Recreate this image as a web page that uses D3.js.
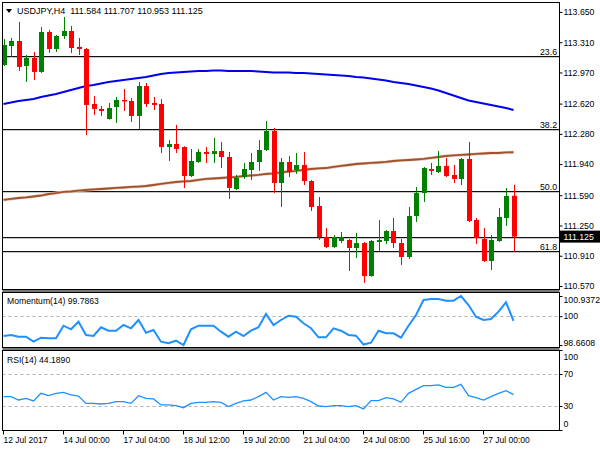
<!DOCTYPE html>
<html><head><meta charset="utf-8">
<script src="https://cdn.jsdelivr.net/npm/d3@7"></script>
<style>body{margin:0;background:#fff}svg text{font-family:"Liberation Sans",Arial,sans-serif;font-size:9px;fill:#000}</style>
</head><body><svg id="c" width="600" height="450"></svg>
<script>
const symbol = "USDJPY,H4";
const lastOHLC = ["111.584","111.707","110.953","111.125"];
const open = [113.054,113.268,113.324,113.043,113.133,112.976,113.425,113.234,113.380,113.436,
113.257,113.234,112.616,112.560,112.447,112.582,112.661,112.650,112.481,112.818,
112.627,112.616,112.132,112.166,112.132,111.806,111.964,112.076,112.054,112.087,
112.020,111.660,111.795,111.874,111.964,112.099,112.312,111.728,111.964,111.874,
111.930,111.750,111.469,111.121,111.008,111.076,111.087,110.997,111.053,110.682,
111.065,111.076,111.188,111.053,110.896,111.357,111.615,111.885,111.851,111.919,
111.818,111.773,111.998,111.312,111.098,110.851,111.076,111.334,111.584];
const high = [113.346,113.358,113.538,113.167,113.200,113.481,113.448,113.391,113.594,113.493,
113.358,113.245,112.706,112.593,112.627,112.695,112.784,112.683,112.863,112.852,
112.695,112.672,112.211,112.380,112.140,112.110,112.110,112.132,112.234,112.189,
112.076,111.818,111.953,112.065,112.211,112.425,112.346,112.009,112.031,112.065,
112.076,111.762,111.570,111.222,111.143,111.177,111.098,111.166,111.065,111.087,
111.312,111.200,111.334,111.098,111.458,111.683,111.908,111.953,112.087,112.009,
111.930,112.009,112.189,111.334,111.222,111.143,111.447,111.672,111.707];
const low = [113.043,113.144,112.987,112.863,112.886,112.964,113.189,113.200,113.346,113.189,
113.167,112.267,112.492,112.481,112.440,112.402,112.537,112.414,112.335,112.582,
112.548,112.065,111.975,112.065,111.672,111.795,111.955,111.953,111.953,111.896,
111.548,111.649,111.773,111.762,111.863,112.087,111.615,111.458,111.795,111.829,
111.705,111.413,111.087,110.997,110.997,111.053,110.739,110.885,110.604,110.675,
110.963,111.042,110.997,110.806,110.873,111.289,111.514,111.818,111.840,111.795,
111.728,111.705,111.289,111.042,110.840,110.750,111.065,111.244,110.953];
const close = [113.279,113.324,113.032,113.133,112.976,113.425,113.234,113.380,113.436,113.245,
113.234,112.605,112.560,112.537,112.571,112.661,112.650,112.481,112.818,112.616,
112.605,112.132,112.166,112.110,111.806,111.975,112.076,112.054,112.087,112.020,
111.672,111.784,111.885,111.964,112.099,112.312,111.728,111.964,111.851,111.930,
111.750,111.458,111.121,111.008,111.121,111.121,110.997,111.053,110.682,111.076,
111.087,111.188,111.053,110.896,111.357,111.615,111.896,111.863,111.919,111.806,
111.773,111.998,111.301,111.110,110.851,111.087,111.346,111.582,111.125];
const maFast = [112.616,112.633,112.650,112.661,112.672,112.695,112.711,112.728,112.751,112.773,
112.796,112.818,112.829,112.846,112.863,112.874,112.886,112.897,112.908,112.919,
112.936,112.953,112.964,112.970,112.976,112.981,112.987,112.987,112.992,112.992,
112.987,112.987,112.987,112.987,112.981,112.976,112.970,112.970,112.970,112.964,
112.964,112.959,112.953,112.947,112.942,112.936,112.931,112.919,112.914,112.902,
112.891,112.880,112.863,112.852,112.841,112.824,112.807,112.790,112.768,112.740,
112.711,112.683,112.655,112.638,112.621,112.605,112.588,112.571,112.548];
const maSlow = [111.537,111.548,111.559,111.565,111.576,111.587,111.604,111.615,111.627,111.632,
111.643,111.649,111.655,111.660,111.666,111.672,111.677,111.683,111.688,111.694,
111.705,111.717,111.728,111.739,111.745,111.750,111.762,111.773,111.778,111.784,
111.790,111.795,111.806,111.812,111.818,111.829,111.835,111.846,111.857,111.863,
111.874,111.885,111.891,111.896,111.908,111.919,111.930,111.941,111.947,111.953,
111.958,111.964,111.975,111.981,111.986,111.992,111.998,112.009,112.020,112.031,
112.037,112.043,112.048,112.054,112.059,112.065,112.065,112.071,112.073];
const momentum = [99.079,99.126,99.047,99.047,98.815,99.000,98.972,98.972,99.558,99.391,
99.744,99.126,99.079,99.484,99.326,99.326,99.590,99.437,99.823,99.233,
99.358,98.815,98.741,98.861,98.661,99.391,99.558,99.558,99.558,99.279,
99.047,99.279,99.079,99.326,99.484,100.101,99.590,99.823,100.022,99.976,
99.669,99.437,99.019,99.019,99.437,99.326,99.126,99.093,98.680,98.768,
99.326,99.205,99.205,99.000,99.558,100.055,100.751,100.798,100.798,100.719,
100.719,100.937,100.519,99.976,99.823,99.869,100.208,100.645,99.786];
const rsi = [41.7,41.7,37.5,39.6,36.3,45.8,42.9,45.8,47.1,43.8,
42.5,33.3,33.3,32.5,33.3,35.4,35.4,33.3,42.9,39.6,
38.8,31.3,31.3,30.4,27.9,33.3,34.6,34.6,35.4,34.6,
29.2,33.3,36.3,37.5,41.7,47.1,37.5,41.7,40.8,41.7,
39.6,35.4,30.0,29.2,30.4,30.4,29.2,30.4,26.3,36.7,
36.7,40.4,38.8,34.6,45.8,50.8,55.4,55.4,56.3,53.3,
53.3,57.1,42.9,40.4,37.5,41.7,45.8,49.2,44.2];
const fibLevels = [113.159, 112.331, 111.641, 110.958];
const fibLabels = ["23.6", "38.2", "50.0", "61.8"];
const bidPrice = 111.125;
const priceTicks = [113.650,113.310,112.970,112.620,112.280,111.940,111.590,111.250,110.910,110.570];
const momTicks = [100.9372, 100, 98.6608];
const momLabels = ["100.9372", "100", "98.6608"];
const rsiTicks = [100, 70, 30, 0];
const timeTickIdx = [0,8,16,24,32,40,48,56,64];
const timeTickLabels = ["12 Jul 2017","14 Jul 00:00","17 Jul 04:00","18 Jul 12:00","19 Jul 20:00","21 Jul 04:00","24 Jul 08:00","25 Jul 16:00","27 Jul 00:00"];
const momLabel = "Momentum(14) 99.7863";
const rsiLabel = "RSI(14) 44.1890";

const svg = d3.select("#c");
const L = 2.5, R = 559.5;
const P1 = {t: 2.5, b: 289.5}, P2 = {t: 292.5, b: 347.5}, P3 = {t: 350.5, b: 430.5};

const x = d3.scaleLinear().domain([0, 68]).range([3.5, 513.5]);
const y = d3.scaleLinear().domain([110.525, 113.762]).range([290, 2]);
const ym = d3.scaleLinear().domain([98.6608, 100.9372]).range([345, 296]);
const yr = d3.scaleLinear().domain([0, 100]).range([430, 350]);

function fitSize(sample, width) {
  const t = svg.append("text").style("font-size", "10px").text(sample);
  const w = t.node().getComputedTextLength();
  t.remove();
  return (10 * width / w).toFixed(2) + "px";
}
const fsTitle = fitSize(symbol + "\u00a0\u00a0" + lastOHLC.join(" "), 186);
const fsAxis = fitSize("113.650", 31);
const fsDate = fitSize(timeTickLabels[0], 44);
const fsInd = fitSize(momLabel, 92);

const defs = svg.append("defs");
[["c1",P1],["c2",P2],["c3",P3]].forEach(([id,p]) => {
  defs.append("clipPath").attr("id", id).append("rect")
    .attr("x", L+0.5).attr("y", p.t+0.5).attr("width", R-L-1).attr("height", p.b-p.t-1);
});

svg.append("rect").attr("x", L).attr("y", P1.b).attr("width", R-L).attr("height", P2.t-P1.b).attr("fill", "#777");
svg.append("rect").attr("x", L).attr("y", P2.b).attr("width", R-L).attr("height", P3.t-P2.b).attr("fill", "#777");

const g1 = svg.append("g").attr("clip-path", "url(#c1)");
fibLevels.forEach((lv, k) => {
  const yy = Math.round(y(lv)) + 0.5;
  g1.append("line").attr("x1", L).attr("x2", R).attr("y1", yy+1).attr("y2", yy+1).attr("stroke", "#c8c8c8").attr("stroke-width", 1);
  g1.append("line").attr("x1", L).attr("x2", R).attr("y1", yy).attr("y2", yy).attr("stroke", "#111").attr("stroke-width", 1.2);
  svg.append("text").attr("x", 557).attr("y", yy - 2).attr("text-anchor", "end").style("font-size", fsAxis).text(fibLabels[k]);
});
const by = Math.round(y(bidPrice)) + 0.5;
g1.append("line").attr("x1", L).attr("x2", R).attr("y1", by+1).attr("y2", by+1).attr("stroke", "#c8c8c8");
g1.append("line").attr("x1", L).attr("x2", R).attr("y1", by).attr("y2", by).attr("stroke", "#111").attr("stroke-width", 1.2);

const idx = d3.range(open.length);
g1.append("path").datum(idx).attr("fill", "none").attr("stroke", "#e8c8b8").attr("stroke-width", 3)
  .attr("d", d3.line().x(i => x(i)).y(i => y(maSlow[i])));
g1.append("path").datum(idx).attr("fill", "none").attr("stroke", "#a0522d").attr("stroke-width", 1.8)
  .attr("d", d3.line().x(i => x(i)).y(i => y(maSlow[i])));
g1.append("path").datum(idx).attr("fill", "none").attr("stroke", "#0000ee").attr("stroke-width", 2)
  .attr("d", d3.line().x(i => x(i)).y(i => y(maFast[i])));

const cg = g1.append("g");
idx.forEach(i => {
  const up = close[i] >= open[i];
  const col = up ? "#008000" : "#ff0000";
  const cx = Math.round(x(i));
  cg.append("line").attr("x1", cx+0.5).attr("x2", cx+0.5).attr("y1", y(high[i])).attr("y2", y(low[i])).attr("stroke", col).attr("stroke-width", 1);
  const t = y(Math.max(open[i], close[i])), b = y(Math.min(open[i], close[i]));
  cg.append("rect").attr("x", cx-2).attr("y", t).attr("width", 5).attr("height", Math.max(1.5, b-t)).attr("fill", col);
});

svg.append("path").attr("d", "M6,9 L12,9 L9,13 Z").attr("fill", "#000");
svg.append("text").attr("x", 17).attr("y", 14).style("font-size", fsTitle).text(symbol + "\u00a0\u00a0" + lastOHLC.join(" "));

const g2 = svg.append("g").attr("clip-path", "url(#c2)");
g2.append("line").attr("x1", L).attr("x2", R).attr("y1", Math.round(ym(100))+0.5).attr("y2", Math.round(ym(100))+0.5)
  .attr("stroke", "#b4b4b4").attr("stroke-dasharray", "3,3");
g2.append("path").datum(idx).attr("fill", "none").attr("stroke", "#1e90ff").attr("stroke-width", 2)
  .attr("d", d3.line().x(i => x(i)).y(i => ym(momentum[i])));
svg.append("text").attr("x", 7).attr("y", 304).style("font-size", fsInd).text(momLabel);

const g3 = svg.append("g").attr("clip-path", "url(#c3)");
[70, 30].forEach(v => {
  g3.append("line").attr("x1", L).attr("x2", R).attr("y1", Math.round(yr(v))+0.5).attr("y2", Math.round(yr(v))+0.5)
    .attr("stroke", "#b4b4b4").attr("stroke-dasharray", "3,3");
});
g3.append("path").datum(idx).attr("fill", "none").attr("stroke", "#1e90ff").attr("stroke-width", 1.3)
  .attr("d", d3.line().x(i => x(i)).y(i => yr(rsi[i])));
svg.append("text").attr("x", 7).attr("y", 363).style("font-size", fsInd).text(rsiLabel);

[P1,P2,P3].forEach(p => {
  svg.append("rect").attr("x", L).attr("y", p.t).attr("width", R-L).attr("height", p.b-p.t)
    .attr("fill", "none").attr("stroke", "#000").attr("stroke-width", 1);
});
function rightAxis(scale, ticks, fmt, clampTop, clampBot) {
  const ax = d3.axisRight(scale).tickValues(ticks).tickFormat(fmt).tickSizeInner(3).tickSizeOuter(0).tickPadding(1);
  const g = svg.append("g").attr("transform", `translate(${R},0)`).call(ax);
  g.select(".domain").remove();
  g.selectAll("line").attr("stroke", "#000");
  g.selectAll("text").style("font-size", fsAxis)
    .each(function(d){
      const sy = scale(d);
      let dy = 0;
      if (clampTop != null && sy < clampTop) dy = clampTop - sy;
      if (clampBot != null && sy > clampBot) dy = clampBot - sy;
      d3.select(this).attr("y", dy);
    });
  return g;
}
rightAxis(y, priceTicks, d => d.toFixed(3), 12, 286);
rightAxis(ym, momTicks, (d,i) => momLabels[i], 300, 343);
rightAxis(yr, rsiTicks, d => String(d), 357, 424);

const byy = y(bidPrice);
svg.append("rect").attr("x", R+0.5).attr("y", byy-6).attr("width", 40).attr("height", 12).attr("fill", "#000");
svg.append("text").attr("x", R+4).attr("y", byy+3.5).style("fill", "#fff").style("font-size", fsAxis).text(bidPrice.toFixed(3));

const xa = d3.axisBottom(d3.scaleLinear().domain([0,68]).range([3,513])).tickValues(timeTickIdx)
  .tickFormat((d,i) => timeTickLabels[i]).tickSizeInner(4).tickSizeOuter(0).tickPadding(2);
const gx = svg.append("g").attr("transform", `translate(0,${P3.b})`).call(xa);
gx.select(".domain").remove();
gx.selectAll("line").attr("stroke", "#000");
gx.selectAll("text").attr("text-anchor", "start").style("font-size", fsDate);
</script>
</body></html>
